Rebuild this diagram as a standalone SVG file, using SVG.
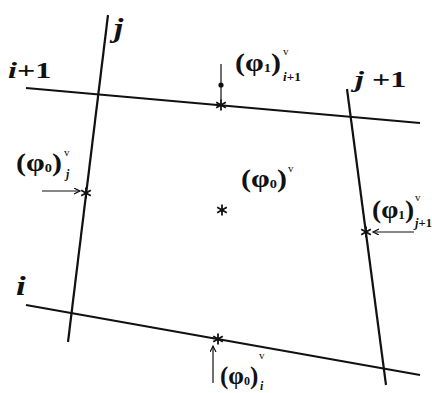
<svg xmlns="http://www.w3.org/2000/svg" width="432" height="393" viewBox="0 0 432 393">
<style>
.ln{stroke:#111;stroke-width:2.2;fill:none}
.ar{stroke:#111;stroke-width:1.2;fill:none}
.st{stroke:#111;stroke-width:1.8;fill:none}
text{font-family:"Liberation Serif","Times New Roman",serif;font-weight:bold;fill:#111}
.it{font-style:italic}
.lb{font-size:25px}
.sb{font-size:12px}
.sp{font-size:11px;font-weight:normal}
</style>
<defs>
<marker id="ah" markerWidth="8" markerHeight="8" refX="6" refY="3" orient="auto" markerUnits="userSpaceOnUse">
<path d="M0,0 L6,3 L0,6" stroke="#111" stroke-width="1.2" fill="none"/>
</marker>
<path id="star" d="M0,-5.5 V5.5 M-4.8,-2.8 L4.8,2.8 M-4.8,2.8 L4.8,-2.8" class="st"/>
</defs>
<rect width="432" height="393" fill="#fff"/>
<g id="grid-lines">
<line id="line-i1" class="ln" x1="26" y1="88" x2="420" y2="123"/>
<line id="line-i" class="ln" x1="26" y1="305" x2="420" y2="375"/>
<line id="line-j" class="ln" x1="108" y1="15" x2="68" y2="342"/>
<line id="line-j1" class="ln" x1="347" y1="89" x2="386" y2="385"/>
</g>
<g id="connectors">
<line class="ar" x1="221" y1="64" x2="221" y2="101"/>
<circle cx="221" cy="85" r="2.6" fill="#111"/>
<line class="ar" x1="42" y1="191" x2="80" y2="191" marker-end="url(#ah)"/>
<line class="ar" x1="414" y1="232" x2="373" y2="232" marker-end="url(#ah)"/>
<line class="ar" x1="213" y1="383" x2="213" y2="346" marker-end="url(#ah)"/>
</g>
<g id="line-labels">
<text transform="translate(8,78) scale(1.4,1)" style="font-size:23px"><tspan class="it">i</tspan>+1</text>
<text transform="translate(114,37) scale(1.2,1)" class="it" style="font-size:28px">j</text>
<text transform="translate(355,87) scale(1.4,1)" style="font-size:23px"><tspan class="it">j</tspan> +1</text>
<text transform="translate(16,295) scale(1.3,1)" class="it" style="font-size:27px">i</text>
</g>
<g id="node-top">
<use href="#star" x="221" y="105"/>
<text transform="translate(235,71) scale(1.2,1)" class="lb">(φ<tspan class="sb" dy="1">1</tspan><tspan dy="-1">)</tspan></text>
<text x="283" y="55" class="sp">v</text>
<text transform="translate(283,81) scale(1.1,1)" class="sb"><tspan class="it">i</tspan>+1</text>
</g>
<g id="node-left">
<use href="#star" x="86" y="193"/>
<text transform="translate(16,171) scale(1.2,1)" class="lb">(φ<tspan class="sb" dy="1">0</tspan><tspan dy="-1">)</tspan></text>
<text x="64" y="156" class="sp">v</text>
<text x="66" y="178" class="sb it">j</text>
</g>
<g id="node-center">
<use href="#star" x="222" y="210"/>
<text transform="translate(241,187) scale(1.2,1)" class="lb">(φ<tspan class="sb" dy="1">0</tspan><tspan dy="-1">)</tspan></text>
<text x="288" y="172" class="sp">v</text>
</g>
<g id="node-right">
<use href="#star" x="366" y="232"/>
<text transform="translate(372,218) scale(1.1,1)" class="lb">(φ<tspan class="sb" dy="1">1</tspan><tspan dy="-1">)</tspan></text>
<text x="415" y="201" class="sp">v</text>
<text transform="translate(415,227) scale(1.05,1)" class="sb"><tspan class="it">j</tspan>+1</text>
</g>
<g id="node-bottom">
<use href="#star" x="218" y="339"/>
<text transform="translate(220,384) scale(1.0,1)" class="lb">(φ<tspan class="sb" dy="1">0</tspan><tspan dy="-1">)</tspan></text>
<text x="259" y="359" class="sp">v</text>
<text x="260" y="390" class="sb it">i</text>
</g>
</svg>
